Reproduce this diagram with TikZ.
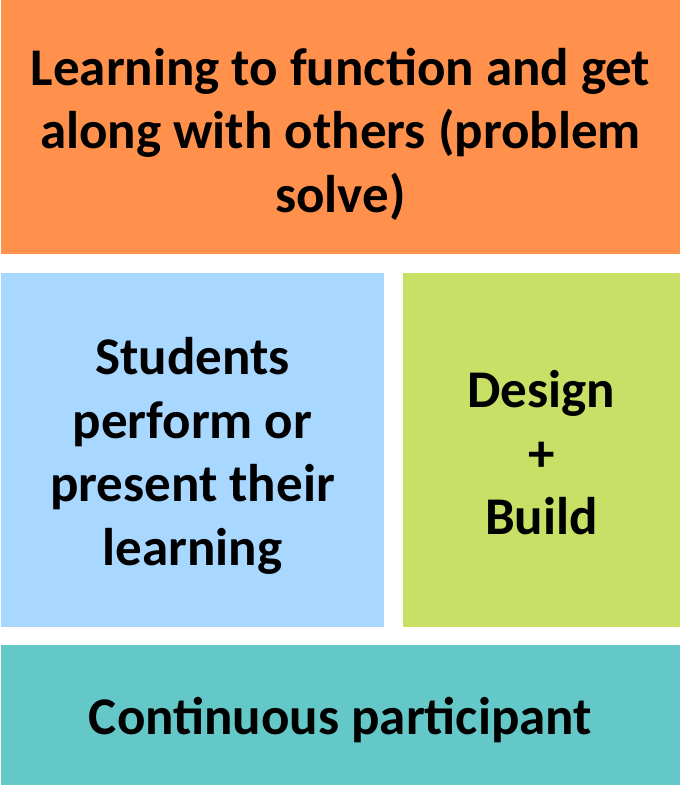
\documentclass[tikz,border=0pt]{standalone}
\usepackage{fontspec}
\setmainfont{Carlito}
\definecolor{corange}{RGB}{255,145,77}
\definecolor{cblue}{RGB}{168,216,255}
\definecolor{cgreen}{RGB}{200,224,102}
\definecolor{cteal}{RGB}{100,200,200}
\begin{document}
\begin{tikzpicture}[x=1pt,y=-1pt,
  box/.style={inner sep=0pt,outer sep=0pt},
  lbl/.style={align=center,font=\fontsize{53}{63.5}\selectfont\bfseries,inner sep=0pt}]
\useasboundingbox (0,0) rectangle (680,785);
\fill[corange] (1,0) rectangle (680,254);
\fill[cblue] (1,273) rectangle (384,627);
\fill[cgreen] (403,273) rectangle (680,627);
\fill[cteal] (1,645) rectangle (680,785);
\node[lbl] (top) at (340.5,134) {Learning to function and get\\along with others (problem\\solve)};
\node[lbl] (left) at (192.5,456) {Students\\perform or\\present their\\learning};
\node[lbl] (right) at (541.5,453) {Design\\+\\Build};
\node[lbl] (bottom) at (340.5,720) {Continuous participant};
\end{tikzpicture}
\end{document}
